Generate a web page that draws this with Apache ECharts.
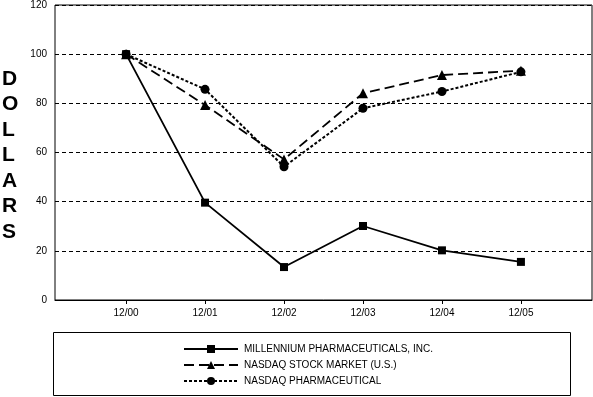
<!DOCTYPE html>
<html>
<head>
<meta charset="utf-8">
<script src="https://cdn.jsdelivr.net/npm/echarts@6/dist/echarts.min.js"></script>
<style>
  html, body { margin: 0; padding: 0; background: #fff; }
  #chart { width: 593px; height: 397px; }
</style>
</head>
<body>
<div id="chart"></div>
<script>
// 年份标签
var periods = ['12/00', '12/01', '12/02', '12/03', '12/04', '12/05'];
// 各系列数值 (美元)
var millennium = [100, 39.6, 13.4, 30.1, 20.2, 15.5];
var nasdaqMarket = [100, 79.3, 57.2, 84.1, 91.5, 93.3];
var nasdaqPharma = [100, 85.7, 54.2, 78.0, 84.8, 92.8];
var seriesNames = ['MILLENNIUM PHARMACEUTICALS, INC.', 'NASDAQ STOCK MARKET (U.S.)', 'NASDAQ PHARMACEUTICAL'];
var yTicks = [0, 20, 40, 60, 80, 100, 120];

function toPairs(arr) {
  return arr.map(function (v, i) { return [i, v]; });
}

var chart = echarts.init(document.getElementById('chart'));
var font = 'Liberation Sans, Arial, sans-serif';

var option = {
  animation: false,
  backgroundColor: '#fff',
  textStyle: { fontFamily: font },
  grid: {
    left: 55, right: 1, top: 5, bottom: 97,
    show: true, borderColor: '#000', borderWidth: 1
  },
  xAxis: {
    type: 'value',
    min: -0.9,
    max: 5.9,
    axisLine: { show: true, lineStyle: { color: '#000', width: 1 } },
    splitLine: { show: false },
    axisTick: {
      show: true, length: 4, inside: false,
      customValues: [0, 1, 2, 3, 4, 5],
      lineStyle: { color: '#000' }
    },
    axisLabel: {
      customValues: [0, 1, 2, 3, 4, 5],
      formatter: function (v) { return periods[Math.round(v)]; },
      color: '#000', fontSize: 10, fontFamily: font, margin: 8
    }
  },
  yAxis: {
    type: 'value',
    min: 0, max: 120, interval: 20,
    axisLine: { show: false },
    axisTick: { show: false },
    axisLabel: {
      color: '#000', fontSize: 10, fontFamily: font, margin: 8,
      formatter: function (v) { return yTicks.indexOf(v) >= 0 ? String(v) : ''; }
    },
    splitLine: { show: true, lineStyle: { color: '#000', type: [4, 3], width: 1 } }
  },
  legend: {
    orient: 'vertical',
    left: 183, top: 342,
    padding: [2, 0, 2, 0],
    itemWidth: 54, itemHeight: 10, itemGap: 6,
    textStyle: { color: '#000', fontSize: 10, fontFamily: font, padding: [0, 0, 0, 1] },
    data: seriesNames
  },
  graphic: [
    {
      type: 'rect',
      shape: { x: 53.5, y: 332.5, width: 517, height: 63 },
      style: { fill: 'none', stroke: '#000', lineWidth: 1 },
      silent: true, z: -1
    },
    {
      type: 'text',
      left: 2, top: 66,
      style: {
        text: 'D\nO\nL\nL\nA\nR\nS',
        fill: '#000',
        font: 'bold 21px ' + font,
        lineHeight: 25.5,
        align: 'center',
        width: 16
      }
    }
  ],
  series: [
    {
      name: seriesNames[2], type: 'line', data: toPairs(nasdaqPharma),
      symbol: 'circle', symbolSize: 9, z: 2,
      lineStyle: { color: '#000', width: 2, type: [3, 2] },
      itemStyle: { color: '#000' }
    },
    {
      name: seriesNames[1], type: 'line', data: toPairs(nasdaqMarket),
      symbol: 'triangle', symbolSize: 10, z: 3,
      lineStyle: { color: '#000', width: 1.8, type: [10, 5] },
      itemStyle: { color: '#000' }
    },
    {
      name: seriesNames[0], type: 'line', data: toPairs(millennium),
      symbol: 'rect', symbolSize: 8, z: 4,
      lineStyle: { color: '#000', width: 1.8, type: 'solid' },
      itemStyle: { color: '#000' }
    }
  ]
};
chart.setOption(option);
</script>
</body>
</html>
